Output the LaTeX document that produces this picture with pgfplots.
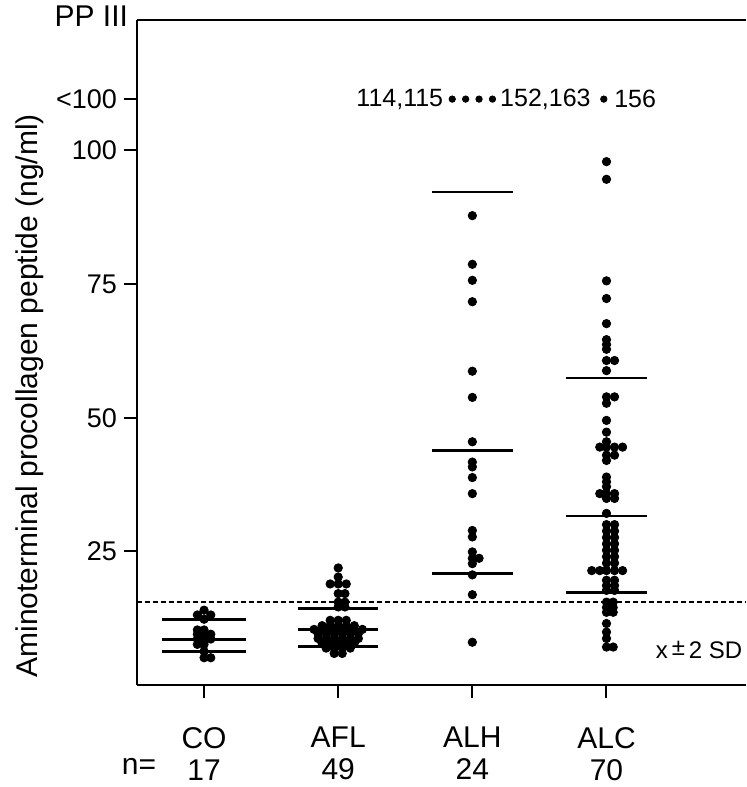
\documentclass[border=0pt]{standalone}
\usepackage{pgfplots}
\pgfplotsset{compat=1.18}
\usepackage{fontspec}
\setmainfont{Liberation Sans}
\begin{document}
\begin{tikzpicture}
\begin{axis}[
    scale only axis,
    width=304.5pt, height=332.5pt,
    xmin=0.5, xmax=5.04,
    ymin=0, ymax=124.4,
    axis x line*=bottom, axis y line*=left,
    axis line style={line width=1pt, -},
    clip=false,
    xtick={1,2,3,4},
    xticklabels={CO\\17, AFL\\49, ALH\\24, ALC\\70},
    xticklabel style={align=center, font=\fontsize{15}{16}\selectfont, yshift=-11pt},
    ytick={25,50,75,100,109.6},
    yticklabels={25,50,75,100,<100},
    yticklabel style={font=\fontsize{13.5}{15}\selectfont},
    tick align=outside,
    major tick length=6.5pt,
    tick style={line width=1pt, black},
    ylabel={Aminoterminal procollagen peptide (ng/ml)},
    ylabel style={at={(axis description cs:-0.176,0.435)}, anchor=center, font=\fontsize{15}{17}\selectfont},
    /pgf/number format/assume math mode=true,
]
% top frame line
\draw[line width=1pt] (rel axis cs:0,1) -- (rel axis cs:1,1);
% upper normal limit
\addplot[black, line width=1pt, dash pattern=on 2.5pt off 1.5pt] coordinates {(0.5,15.6) (5.04,15.6)};

% mean and +-2SD lines
\addplot[black, line width=1.3pt, unbounded coords=jump] coordinates {
 (0.69,12.3) (1.31,12.3) (nan,nan) (0.69,8.5) (1.31,8.5) (nan,nan) (0.69,6.3) (1.31,6.3) (nan,nan)
 (1.7,14.3) (2.3,14.3) (nan,nan) (1.7,10.4) (2.3,10.4) (nan,nan) (1.7,7.2) (2.3,7.2) (nan,nan)
 (2.7,92.2) (3.3,92.2) (nan,nan) (2.7,43.9) (3.3,43.9) (nan,nan) (2.7,20.9) (3.3,20.9) (nan,nan)
 (3.7,57.4) (4.3,57.4) (nan,nan) (3.7,31.6) (4.3,31.6) (nan,nan) (3.7,17.3) (4.3,17.3)
};

% CO, n=17
\addplot[only marks, mark=*, mark size=2.1pt, black] coordinates {
 (1,14.0) (0.95,13.1) (1.05,13.1) (1,12.3) (0.95,10.3) (1,10.3)
 (0.95,9.5) (1,9.5) (1.05,9.5) (0.95,8.6) (1,8.6) (1.05,8.6)
 (0.95,7.6) (1,7.6) (1,6.3) (1,5.1) (1.05,5.1)
};
% AFL, n=49
\addplot[only marks, mark=*, mark size=2.1pt, black] coordinates {
 (2,21.9) (2,20.2) (1.94,18.9) (2,18.9) (2.06,18.9)
 (2,17.1) (2.05,17.1) (2,15.5) (2.05,15.5) (2,14.6) (2.05,14.6)
 (1.94,12.1) (2,12.1) (2.06,12.1)
 (1.88,11.1) (1.94,11.1) (2,11.1) (2.06,11.1) (2.12,11.1)
 (1.82,10.4) (1.88,10.4) (1.94,10.4) (2,10.4) (2.06,10.4) (2.12,10.4) (2.18,10.4)
 (1.85,9.6) (1.91,9.6) (1.97,9.6) (2.03,9.6) (2.09,9.6) (2.15,9.6)
 (1.85,8.7) (1.91,8.7) (1.97,8.7) (2.03,8.7) (2.09,8.7) (2.15,8.7)
 (1.88,7.8) (1.94,7.8) (2,7.8) (2.06,7.8) (2.12,7.8)
 (1.91,6.9) (1.97,6.9) (2.03,6.9) (2.09,6.9)
 (1.97,5.9) (2.03,5.9)
};
% ALH, n=24 (4 values above 100, drawn at the <100 level)
\addplot[only marks, mark=*, mark size=1.6pt, black] coordinates {
 (2.85,109.6) (2.95,109.6) (3.05,109.6) (3.15,109.6)
};
\addplot[only marks, mark=*, mark size=2.1pt, black] coordinates {
 (3,87.8) (3,78.7) (3,75.7) (3,71.7) (3,58.7) (3,53.8) (3,45.5)
 (3,41.7) (3,40.8) (3,38.8) (3,35.8) (3,28.9) (3,27.7) (3,24.9)
 (3,23.7) (3.05,23.7) (3,22.7) (3,20.6) (3,16.9) (3,8.0)
};
% ALC, n=70 (1 value above 100)
\addplot[only marks, mark=*, mark size=1.6pt, black] coordinates {(3.98,109.6)};
\addplot[only marks, mark=*, mark size=2.1pt, black] coordinates {
 (4,97.9) (4,94.6) (4,75.6) (4,72.3) (4,67.6) (4,64.6) (4,63.7) (4,62.8)
 (4,60.7) (4.06,60.7) (4,58.8)
 (4,53.9) (4.06,53.9) (4,52.7) (4,49.5) (4,47.3) (4,45.5)
 (3.95,44.5) (4,44.5) (4.06,44.5) (4.12,44.5)
 (4,43.0) (4.06,43.0) (4,42.0)
 (4,38.9) (4,38.0) (4,37.1)
 (3.95,35.8) (4,35.8) (4.06,35.8) (4,34.9) (4.06,34.9) (4,32.1)
 (4,30.0) (4.06,30.0) (4,28.8) (4.06,28.8) (4,27.6) (4.06,27.6)
 (4,26.4) (4.06,26.4) (4,25.2) (4.06,25.2) (4,24.0) (4.06,24.0)
 (4,22.8) (4.06,22.8)
 (3.89,21.4) (3.95,21.4) (4,21.4) (4.06,21.4) (4.12,21.4)
 (4,19.6) (4.06,19.6) (4,18.6) (4.06,18.6) (4,17.7) (4.06,17.7)
 (4,15.5) (4.05,15.5) (4,14.5) (4.05,14.5) (4,13.6) (4.05,13.6)
 (4,11.5) (4,9.9) (4,8.7) (4,7.1) (4.05,7.1)
};

% annotations
\node[anchor=east, font=\fontsize{12.5}{14}\selectfont, inner sep=1pt] at (axis cs:2.80,109.6) {114,115};
\node[anchor=west, font=\fontsize{12.5}{14}\selectfont, inner sep=1pt] at (axis cs:3.19,109.6) {152,163};
\node[anchor=west, font=\fontsize{12.5}{14}\selectfont, inner sep=1pt] at (axis cs:4.04,109.6) {156};
\node[font=\fontsize{12}{14}\selectfont, inner sep=1pt] at (axis cs:4.69,6.5) {x\,\raisebox{1.5pt}{±}\,2 SD};
\node[font=\fontsize{15}{16}\selectfont] at (axis cs:0.515,-15.2) {n=};
\node[font=\fontsize{15}{16}\selectfont] at (axis description cs:-0.075,1.006) {PP III};
\end{axis}
\pgfresetboundingbox
\path (-68.5pt,-51pt) rectangle (304.5pt,342.5pt);
\end{tikzpicture}
\end{document}
